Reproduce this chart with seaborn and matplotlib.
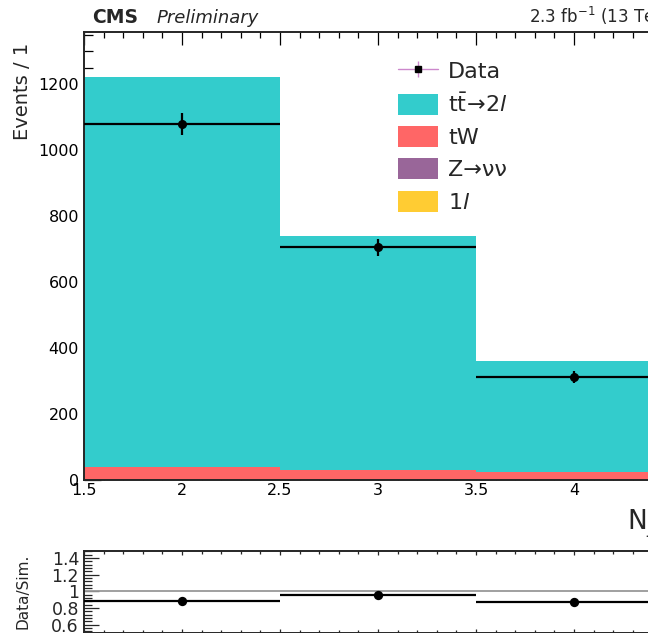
import numpy as np
import pandas as pd
import matplotlib
matplotlib.use("Agg")
import matplotlib.pyplot as plt
from matplotlib.ticker import MultipleLocator, AutoMinorLocator, FormatStrFormatter
from matplotlib.patches import Patch
from matplotlib.lines import Line2D
from matplotlib.legend_handler import HandlerTuple
import seaborn as sns

# ---- data -------------------------------------------------------------
bin_edges = [1.5, 2.5, 3.5, 4.5]
njets = [2, 3, 4]
ttbar_2l = [1182, 708, 336]
tw = [38, 30, 23]
znunu = [1.0, 0.8, 0.6]
one_lep = [0.5, 0.4, 0.3]
data_obs = [1078, 706, 313]
data_err = [33, 26, 18]

process_names = ["ttbar_2l", "tW", "znunu", "1l"]
process_labels = {
    "ttbar_2l": r"$\mathrm{t}\bar{\mathrm{t}}\!\rightarrow\!2\mathit{l}$",
    "tW": "tW",
    "znunu": "Z\u2192\u03bd\u03bd",
    "1l": r"1$\mathit{l}$",
}
colors = {"ttbar_2l": "#33CCCC", "tW": "#FF6666", "znunu": "#996699", "1l": "#FFCC33"}

df = pd.DataFrame({
    "njets": njets * 4,
    "process": [p for p in process_names for _ in njets],
    "events": ttbar_2l + tw + znunu + one_lep,
})

total = np.array(ttbar_2l) + np.array(tw) + np.array(znunu) + np.array(one_lep)
ratio = np.array(data_obs) / total
ratio_err = np.array(data_err) / total
half_width = [0.5, 0.5, 0.5]

# ---- style ------------------------------------------------------------
sns.set_style("ticks")
plt.rcParams["font.family"] = ["DejaVu Sans"]
plt.rcParams["mathtext.fontset"] = "dejavusans"
plt.rcParams["axes.linewidth"] = 1.4

W, H = 648, 633
fig = plt.figure(figsize=(W / 100, H / 100), dpi=100)
fig.patch.set_facecolor("white")

px_per_unit = 196.0
ax_left = 84 / W
ax_width = (bin_edges[-1] - bin_edges[0]) * px_per_unit / W
ax = fig.add_axes([ax_left, (H - 480) / H, ax_width, (480 - 32) / H])
rax = fig.add_axes([ax_left, 0.0, ax_width, (633 - 551) / H])

# ---- stacked simulation ----------------------------------------------
sns.histplot(
    data=df, x="njets", weights="events", hue="process",
    hue_order=process_names, multiple="stack", bins=bin_edges,
    palette=colors, element="bars", linewidth=0, alpha=1.0,
    legend=False, ax=ax,
)

# ---- data points ------------------------------------------------------
ax.errorbar(njets, data_obs, xerr=half_width, yerr=data_err, fmt="o",
            color="black", ms=5.5, lw=1.6, capsize=0, zorder=5)

ax.set_xlim(bin_edges[0], bin_edges[-1])
ax.set_ylim(0, 1358)
ax.set_xlabel("")
ax.set_ylabel("")
ax.xaxis.set_major_locator(MultipleLocator(0.5))
ax.xaxis.set_minor_locator(MultipleLocator(0.1))
ax.yaxis.set_major_locator(MultipleLocator(200))
ax.yaxis.set_minor_locator(MultipleLocator(50))
ax.xaxis.set_major_formatter(FormatStrFormatter("%g"))
ax.tick_params(which="both", direction="in", top=True, right=False, width=0.9, colors="black")
ax.tick_params(axis="y", which="major", length=12, labelsize=11.5, pad=3.6)
ax.tick_params(axis="y", which="minor", length=6.5)
ax.tick_params(axis="x", which="major", length=9, labelsize=11.5, pad=2.5)
ax.tick_params(axis="x", which="minor", length=4.5)
for s in ["left", "top", "bottom"]:
    ax.spines[s].set_visible(True)
ax.spines["right"].set_visible(False)

# ---- legend -----------------------------------------------------------
data_handle = (
    Line2D([], [], color="#cc88cc", lw=1.0),
    Line2D([], [], color="#cc88cc", marker="|", linestyle="none", markersize=12, mew=1.0),
    Line2D([], [], color="black", marker="s", linestyle="none", markersize=5),
)
handles = [data_handle] + [Patch(facecolor=colors[p], edgecolor="none") for p in process_names]
labels = ["Data"] + [process_labels[p] for p in process_names]
fig.legend(handles, labels, loc="upper left", bbox_to_anchor=(398 / W, (H - 60) / H),
           bbox_transform=fig.transFigure, frameon=False, fontsize=16,
           handlelength=1.8, handleheight=1.08, handletextpad=0.45,
           labelspacing=0.46, borderpad=0, borderaxespad=0,
           handler_map={tuple: HandlerTuple(ndivide=1, pad=0)})

# ---- ratio panel ------------------------------------------------------
rax.axhline(1.0, color="#999999", lw=1.3, zorder=1)
rax.errorbar(njets, ratio, xerr=half_width, yerr=ratio_err, fmt="none",
             ecolor="black", lw=1.6, capsize=0, zorder=3)
sns.scatterplot(x=njets, y=ratio, color="black", s=45, linewidth=0, ax=rax, zorder=4)
rax.set_xlim(bin_edges[0], bin_edges[-1])
rax.set_ylim(0.5, 1.485)
rax.yaxis.set_major_locator(MultipleLocator(0.2))
rax.yaxis.set_minor_locator(AutoMinorLocator(5))
rax.yaxis.set_major_formatter(FormatStrFormatter("%g"))
rax.xaxis.set_major_locator(MultipleLocator(0.5))
rax.xaxis.set_minor_locator(MultipleLocator(0.1))
rax.tick_params(which="both", direction="in", top=True, right=False, width=0.9,
                labelbottom=False)
rax.tick_params(axis="y", which="major", length=11, labelsize=12.5, pad=3.6)
rax.tick_params(axis="y", which="minor", length=5.5)
rax.tick_params(axis="x", which="major", length=3)
rax.tick_params(axis="x", which="minor", length=2)
rax.spines["right"].set_visible(False)
rax.set_xlabel("")
rax.set_ylabel("")

# ---- labels -----------------------------------------------------------
fig.text(92 / W, (H - 22.7) / H, "CMS", fontsize=13.5, fontweight="bold", ha="left", va="baseline")
fig.text(157 / W, (H - 22.7) / H, "Preliminary", fontsize=13, fontstyle="italic", ha="left", va="baseline")
fig.text((84 + 3 * px_per_unit) / W, (H - 22.7) / H, r"2.3 fb$^{-1}$ (13 TeV)", fontsize=12,
         ha="right", va="baseline")
fig.text(23 / W, (H - 43) / H, "Events / 1", fontsize=14, rotation=90, ha="center", va="top")
fig.text(23.5 / W, (H - 554) / H, "Data/Sim.", fontsize=11, rotation=90, ha="center", va="top")
fig.text(627 / W, (H - 508) / H, r"N$_{\mathrm{jets}}$", fontsize=19, ha="left", va="top")

fig.savefig("out.png", dpi=100, facecolor="white")
